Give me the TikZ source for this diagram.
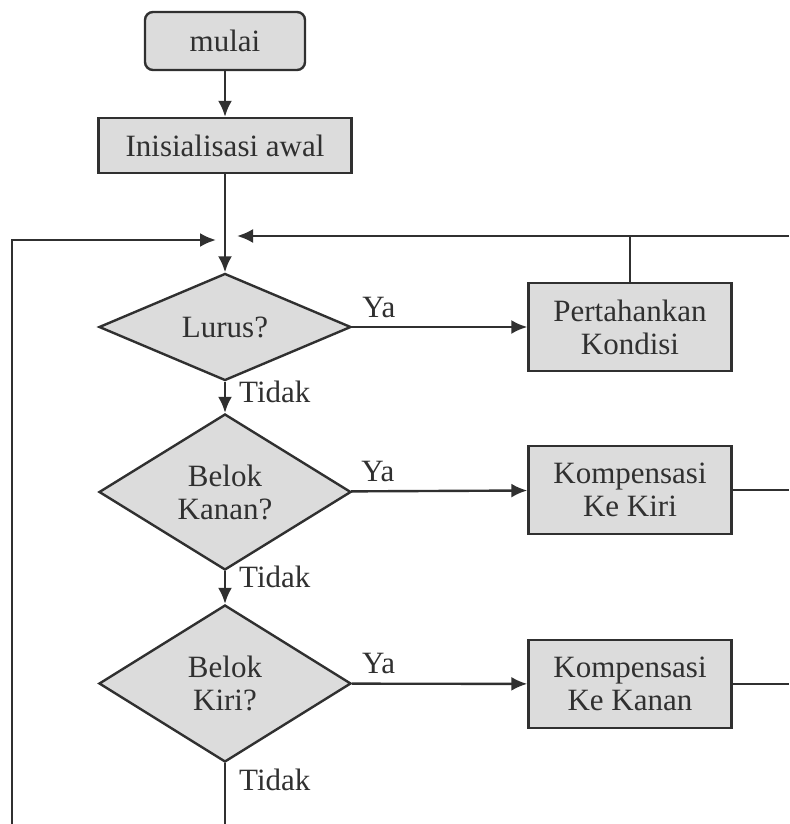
\documentclass[tikz,border=0pt]{standalone}
\usepackage{fontspec}
\setmainfont{Liberation Serif}
\usetikzlibrary{shapes.geometric,arrows.meta}
\definecolor{linegray}{HTML}{303030}
\definecolor{boxfill}{HTML}{DCDCDC}
\tikzset{
  block/.style={draw=linegray,fill=boxfill,line width=1.2pt,text=linegray,align=center,inner sep=0pt},
  startbox/.style={block,rounded corners=4pt,minimum width=80pt,minimum height=29pt},
  procbox/.style={block,minimum width=101.5pt,minimum height=44pt},
  decide/.style={block,diamond,minimum width=126pt},
  flow/.style={draw=linegray,line width=1.2pt},
  lbl/.style={text=linegray,inner sep=0pt}
}
\begin{document}
\begin{tikzpicture}[x=0.5pt,y=-0.5pt,>={Latex[length=8pt,width=7pt]},font=\fontsize{15.5}{16.5}\selectfont]
\useasboundingbox (0,0) rectangle (789,824);

\node[startbox] (mulai) at (225,41) {mulai};
\node[block,minimum width=126.5pt,minimum height=27.5pt] (init) at (225,145.5) {Inisialisasi awal};
\node[decide,minimum height=44pt] (lurus) at (225,327) {Lurus?};
\node[decide,minimum height=78pt] (kanan) at (225,492) {Belok\\Kanan?};
\node[decide,minimum height=78.5pt] (kiri) at (225,683.5) {Belok\\Kiri?};
\node[procbox] (tahan) at (630,327) {Pertahankan\\Kondisi};
\node[procbox] (kekiri) at (630,490) {Kompensasi\\Ke Kiri};
\node[procbox] (kekanan) at (630,684) {Kompensasi\\Ke Kanan};

\coordinate (ltip) at (216,240);
\coordinate (rtip) at (237,236);
\coordinate (redge) at (789,236);
\coordinate (lbot) at (12,824);

\draw[flow,->] (mulai) -- (init);
\draw[flow,->] (init) -- (lurus);
\draw[flow,->] (lurus) -- node[lbl,pos=0.66,anchor=base west,xshift=6.5pt]{Tidak} (kanan);
\draw[flow,->] (kanan) -- node[lbl,pos=0.49,anchor=base west,xshift=6.5pt]{Tidak} (kiri);
\draw[flow] (kiri) -- node[lbl,pos=0.45,anchor=base west,xshift=6.5pt]{Tidak} (kiri.south |- lbot);

\draw[flow,->] (lurus) -- node[lbl,pos=0,anchor=base west,xshift=4.5pt,yshift=5pt]{Ya} (tahan);
\draw[flow,->] (kanan) -- node[lbl,pos=0,anchor=base west,xshift=4.5pt,yshift=5pt]{Ya} (kekiri);
\draw[flow,->] (kiri) -- node[lbl,pos=0,anchor=base west,xshift=4.5pt,yshift=5pt]{Ya} (kekanan);

\draw[flow] (tahan.north) -- (tahan.north |- redge);
\draw[flow,->] (redge) -- (rtip);
\draw[flow] (kekiri.east) -- (kekiri.east -| redge);
\draw[flow] (kekanan.east) -- (kekanan.east -| redge);
\draw[flow,->] (lbot) |- (ltip);
\end{tikzpicture}
\end{document}
